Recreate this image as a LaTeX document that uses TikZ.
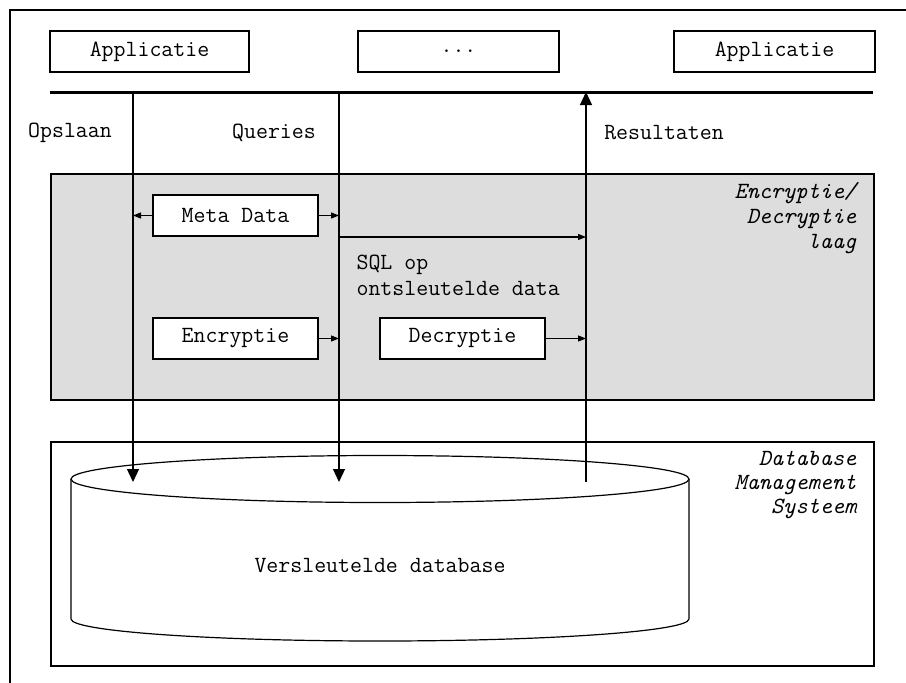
\documentclass[tikz,border=0pt]{standalone}
\usepackage{fontspec}
\usepackage{tikz}
\usetikzlibrary{arrows.meta, positioning}
\definecolor{laaggrijs}{RGB}{221,221,221}

\begin{document}
\begin{tikzpicture}[x=0.5pt, y=-0.5pt, line width=0.6pt,
  font=\ttfamily\fontsize{11.6}{12.5}\selectfont,
  appbox/.style={draw, fill=white, minimum height=20.5pt, inner sep=0pt},
  laagbox/.style={draw, fill=white, minimum width=82.5pt, minimum height=20.5pt, inner sep=0pt},
  grootpijl/.style={-{Triangle[width=6pt, length=6.5pt]}},
  kleinpijl/.style={-{Triangle[width=3pt, length=4pt]}}]
\path[use as bounding box, clip] (0,0) rectangle (906,682);
\draw (10,700) -- (10,10) -- (930,10);

\node[appbox, minimum width=99.5pt] (app1) at (149.5,51.5) {Applicatie};
\node[appbox, minimum width=100.5pt] (dots) at (458.5,51.5) {...};
\node[appbox, minimum width=100.5pt] (app2) at (774.5,51.5) {Applicatie};
\draw[line width=1.5pt] (50,92) -- (873,92);

\draw[fill=laaggrijs] (51,174) rectangle (874,400);
\draw (51,442) rectangle (874,666);

\coordinate (ops) at (133,92);
\coordinate (qry) at (339,92);
\coordinate (res) at (586,92);
\coordinate (ops-db) at (133,482);
\coordinate (qry-db) at (339,482);
\coordinate (res-db) at (586,482);
\coordinate (sql) at (339,237);

\node (opslaan) at (70,133) {Opslaan};
\node (queries) at (274,133) {Queries};
\node (resultaten) at (664,133) {Resultaten};

% cilinder
\draw[fill=white] (71,479) -- (71,619) arc[start angle=180, end angle=0, x radius=309, y radius=22] -- (689,479);
\draw (380,479) ellipse[x radius=309, y radius=23.5];
\node (db) at (380,566) {Versleutelde database};

\node[laagbox] (meta) at (235.5,215.5) {Meta Data};
\node[laagbox] (enc) at (235.5,338.5) {Encryptie};
\node[laagbox] (dec) at (462.5,338.5) {Decryptie};

\draw[grootpijl] (ops) -- (ops-db);
\draw[grootpijl] (qry) -- (qry-db);
\draw[grootpijl] (res-db) -- (res);

\draw[kleinpijl] (meta.west) -- (meta.west -| ops);
\draw[kleinpijl] (meta.east) -- (meta.east -| qry);
\draw[kleinpijl] (enc.east) -- (enc.east -| qry);
\draw[kleinpijl] (dec.east) -- (dec.east -| res);
\draw[kleinpijl] (sql) -- (sql -| res);

\node[anchor=west, align=left, inner sep=0pt, font=\ttfamily\fontsize{11.6}{13}\selectfont] (sqltekst) at (356,275) {SQL op\\ontsleutelde data};
\node[anchor=east, align=right, inner sep=0pt, font=\ttfamily\itshape\fontsize{11.6}{12.5}\selectfont] (laag) at (857,218) {Encryptie/\\Decryptie\\laag};
\node[anchor=east, align=right, inner sep=0pt, font=\ttfamily\itshape\fontsize{11.6}{12.2}\selectfont] (dbms) at (857,485) {Database\\Management\\Systeem};
\end{tikzpicture}
\end{document}
